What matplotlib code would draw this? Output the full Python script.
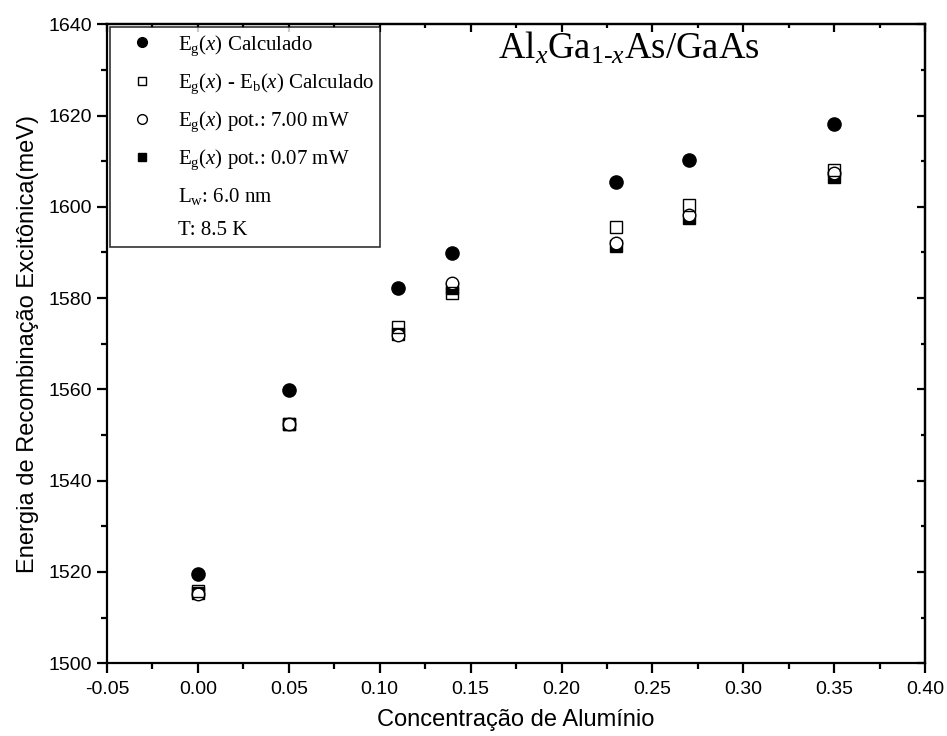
import numpy as np
import matplotlib.pyplot as plt
from matplotlib.lines import Line2D
from matplotlib.ticker import MultipleLocator, FormatStrFormatter

plt.rcParams['font.family'] = ['Liberation Sans Narrow', 'Liberation Sans', 'DejaVu Sans']
plt.rcParams['mathtext.fontset'] = 'custom'
plt.rcParams['mathtext.rm'] = 'Liberation Serif'
plt.rcParams['mathtext.it'] = 'Liberation Serif:italic'

# concentracao de Al e energias (meV)
x = np.array([0.00, 0.05, 0.11, 0.14, 0.23, 0.27, 0.35])
eg_calc = np.array([1519.6, 1559.8, 1582.3, 1589.9, 1605.4, 1610.3, 1618.1])
eg_eb_calc = np.array([1515.8, 1552.4, 1573.6, 1581.2, 1595.6, 1600.3, 1608.0])
eg_7mw = np.array([1515.2, 1552.3, 1571.9, 1583.4, 1592.0, 1598.2, 1607.4])
eg_007mw = np.array([1515.3, 1552.3, 1572.2, 1582.2, 1591.4, 1597.6, 1606.6])

fig = plt.figure(figsize=(9.47, 7.36), dpi=100)
ax = fig.add_axes([0.113, 0.099, 0.864, 0.868])

ax.plot(x, eg_007mw, 's', color='black', ms=8, zorder=3)
ax.plot(x, eg_7mw, 'o', mfc='white', mec='black', mew=1.0, ms=9, zorder=4)
ax.plot(x, eg_eb_calc, 's', mfc='none', mec='black', mew=1.0, ms=8, zorder=5)
ax.plot(x, eg_calc, 'o', color='black', ms=9.5, zorder=6)

ax.set_xlim(-0.05, 0.40)
ax.set_ylim(1500, 1640)
ax.xaxis.set_major_locator(MultipleLocator(0.05))
ax.xaxis.set_minor_locator(MultipleLocator(0.025))
ax.yaxis.set_major_locator(MultipleLocator(20))
ax.yaxis.set_minor_locator(MultipleLocator(10))
ax.xaxis.set_major_formatter(FormatStrFormatter('%.2f'))

for s in ax.spines.values():
    s.set_linewidth(1.6)
ax.tick_params(which='major', direction='out', length=7, width=1.6, labelsize=14)
ax.tick_params(axis='x', which='major', pad=6)
ax.tick_params(which='minor', direction='out', length=4, width=1.6)

# eixos espelhados com ticks para dentro
top = ax.secondary_xaxis('top')
top.xaxis.set_major_locator(MultipleLocator(0.05))
top.xaxis.set_minor_locator(MultipleLocator(0.025))
top.tick_params(which='major', direction='in', length=6, width=1.6, labeltop=False)
top.tick_params(which='minor', direction='in', length=3, width=1.6)
top.spines['top'].set_linewidth(1.6)
right = ax.secondary_yaxis('right')
right.yaxis.set_major_locator(MultipleLocator(20))
right.yaxis.set_minor_locator(MultipleLocator(10))
right.tick_params(which='major', direction='in', length=6, width=1.6, labelright=False)
right.tick_params(which='minor', direction='in', length=3, width=1.6)
right.spines['right'].set_linewidth(1.6)

ax.set_xlabel('Concentração de Alumínio', fontsize=17, labelpad=8)
ax.set_ylabel('Energia de Recombinação Excitônica(meV)', fontsize=17, labelpad=7)

ax.text(0.478, 0.962, r'Al$_{x}$Ga$_{1\text{-}x}$As/GaAs', transform=ax.transAxes,
        fontsize=26.5, family='Liberation Serif', va='center', ha='left')

handles = [
    Line2D([], [], ls='none', marker='o', color='black', ms=7),
    Line2D([], [], ls='none', marker='s', mfc='none', mec='black', ms=6),
    Line2D([], [], ls='none', marker='o', mfc='none', mec='black', ms=7),
    Line2D([], [], ls='none', marker='s', color='black', ms=6),
    Line2D([], [], ls='none'),
    Line2D([], [], ls='none'),
]
labels = [
    r'E$_{\mathrm{g}}$($x$) Calculado',
    r'E$_{\mathrm{g}}$($x$) - E$_{\mathrm{b}}$($x$) Calculado',
    r'E$_{\mathrm{g}}$($x$) pot.: 7.00 mW',
    r'E$_{\mathrm{g}}$($x$) pot.: 0.07 mW',
    r'L$_{\mathrm{w}}$: 6.0 nm',
    r'T: 8.5 K',
]
leg = ax.legend(handles, labels, loc='upper left', bbox_to_anchor=(0.004, 0.996),
                prop={'family': 'Liberation Serif', 'size': 15}, frameon=True,
                fancybox=False, edgecolor='black', borderpad=0.3, labelspacing=0.66,
                handletextpad=0.55, handlelength=2.4, borderaxespad=0.0)
leg.get_frame().set_linewidth(1.2)

fig.savefig('out.png', dpi=100)
